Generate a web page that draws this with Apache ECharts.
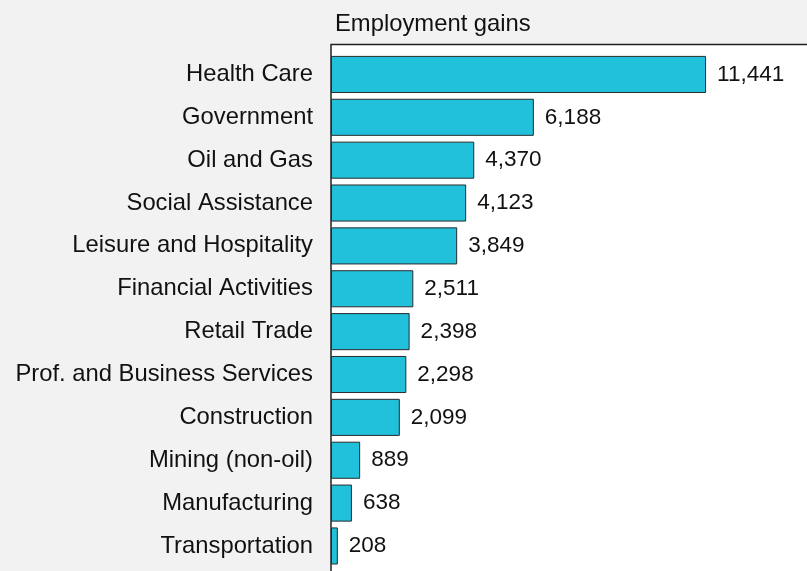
<!DOCTYPE html>
<html>
<head>
<meta charset="utf-8">
<script src="https://cdn.jsdelivr.net/npm/echarts@6/dist/echarts.min.js"></script>
<style>
  html, body { margin: 0; padding: 0; background: #f2f2f2; }
  #chart { width: 807px; height: 571px; }
</style>
</head>
<body>
<div id="chart"></div>
<script>
// Employment gains by industry
const categories = [
  'Health Care', 'Government', 'Oil and Gas', 'Social Assistance',
  'Leisure and Hospitality', 'Financial Activities', 'Retail Trade',
  'Prof. and Business Services', 'Construction', 'Mining (non-oil)',
  'Manufacturing', 'Transportation'
];
const gains = [11441, 6188, 4370, 4123, 3849, 2511, 2398, 2298, 2099, 889, 638, 208];
const chartTitle = 'Employment gains';

const FONT = 'Liberation Sans, Arial, sans-serif';
const chart = echarts.init(document.getElementById('chart'), null, { renderer: 'canvas' });

chart.setOption({
  backgroundColor: '#f2f2f2',
  animation: false,
  title: {
    text: chartTitle,
    left: 330,
    top: 7,
    textStyle: { fontFamily: FONT, fontSize: 23.8, fontWeight: 'normal', color: '#111' }
  },
  graphic: [
    {
      // white plotting panel with top and left frame lines
      type: 'rect',
      z: 0,
      shape: { x: 331, y: 44.5, width: 700, height: 700 },
      style: { fill: '#ffffff', stroke: '#222', lineWidth: 1.5 }
    }
  ],
  grid: { left: 331, right: 0, top: 53, bottom: 3.6, containLabel: false },
  xAxis: {
    type: 'value',
    min: 0,
    max: 14520,
    show: false
  },
  yAxis: {
    type: 'category',
    data: categories,
    inverse: true,
    axisLine: { show: false },
    axisTick: { show: false },
    axisLabel: {
      margin: 18,
      fontFamily: FONT,
      fontSize: 23.8,
      color: '#111',
      padding: [6, 0, 0, 0]
    }
  },
  series: [{
    type: 'bar',
    data: gains,
    barCategoryGap: '13.5%',
    z: 2,
    itemStyle: { color: '#21c1dc', borderColor: '#2a2a2a', borderWidth: 1 },
    label: {
      show: true,
      position: 'right',
      distance: 11,
      fontFamily: FONT,
      fontSize: 22.5,
      color: '#111',
      padding: [6, 0, 0, 0],
      formatter: p => p.value.toLocaleString('en-US')
    }
  }]
});
</script>
</body>
</html>
